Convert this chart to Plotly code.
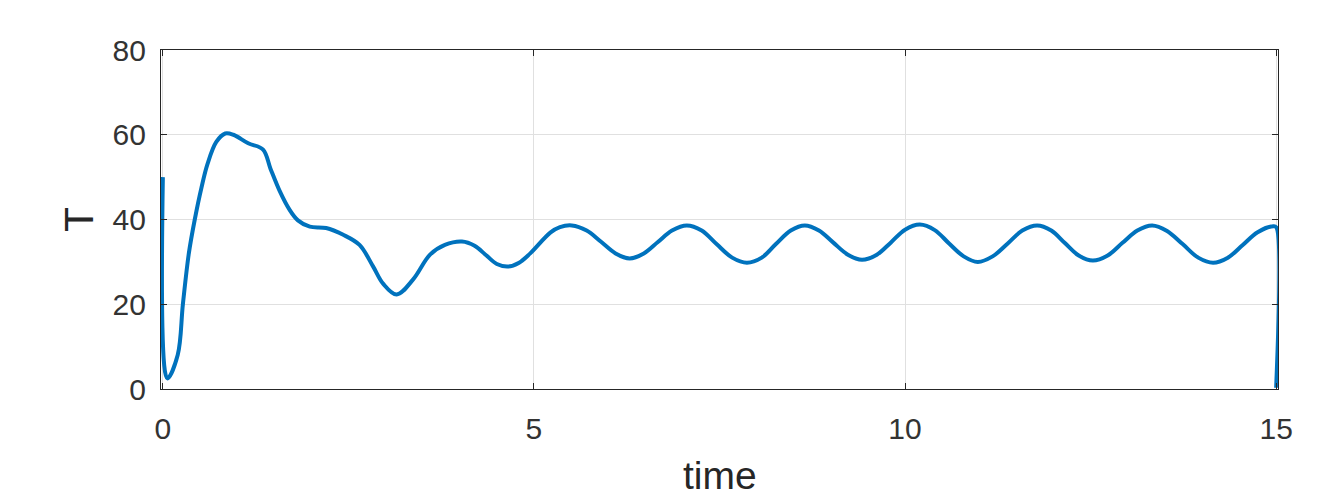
import plotly.graph_objects as go

time = [0, 0.06, 0.2, 0.27, 0.35, 0.43, 0.52, 0.6, 0.72, 0.84, 0.95, 1.15, 1.35, 1.45,
        1.58, 1.7, 1.82, 1.98, 2.2, 2.43, 2.65, 2.83, 2.97, 3.15, 3.37, 3.6, 3.8, 4.03,
        4.2, 4.36, 4.5, 4.65, 4.8, 4.95, 5.22, 5.35, 5.51,
        5.71, 5.90, 6.10, 6.29, 6.48, 6.67, 6.86, 7.06,
        7.26, 7.46, 7.67, 7.87, 8.07, 8.26, 8.46, 8.65,
        8.84, 9.03, 9.23, 9.42, 9.62, 9.81, 10.0, 10.2,
        10.4, 10.59, 10.79, 10.98, 11.18, 11.38, 11.58, 11.78,
        11.97, 12.15, 12.34, 12.53, 12.73, 12.93, 13.13, 13.33,
        13.53, 13.74, 13.95, 14.15, 14.35, 14.55, 14.75, 14.96, 15.0, 15.0]
T = [50, 2.5, 8, 20, 32, 40, 47.5, 53, 58.3, 60.3, 60, 58, 56.5, 52,
     46.5, 42.5, 39.8, 38.3, 38, 36.4, 34, 29, 24.8, 22.3, 25.8, 31.7, 34.0, 34.8,
     33.8, 31.5, 29.5, 28.9, 29.8, 32.0, 36.9, 38.2, 38.6,
     37.4, 34.8, 32.0, 30.8, 32.0, 34.7, 37.4, 38.6,
     37.4, 34.2, 31.0, 29.8, 31.0, 34.2, 37.4, 38.6,
     37.4, 34.6, 31.7, 30.5, 31.7, 34.6, 37.6, 38.8,
     37.5, 34.4, 31.3, 30.0, 31.3, 34.3, 37.4, 38.6,
     37.4, 34.5, 31.5, 30.3, 31.5, 34.5, 37.4, 38.6,
     37.3, 34.2, 31.0, 29.8, 31.0, 34.0, 37.0, 38.4, 38.2, 0.3]

x_ticks = [0, 5, 10, 15]
y_ticks = [0, 20, 40, 60, 80]
x_label = "time"
y_label = "T"

font = "Liberation Sans, Arial, Helvetica, sans-serif"
axis_color = "#262626"

fig = go.Figure()
fig.add_trace(go.Scatter(
    x=time, y=T, mode="lines",
    line=dict(color="#0072BD", width=4, shape="spline", smoothing=1.0),
    showlegend=False,
))

common = dict(
    showline=True, linecolor=axis_color, linewidth=1.3, mirror="ticks",
    ticks="inside", ticklen=6, tickcolor=axis_color, tickwidth=1.3,
    showgrid=True, gridcolor="#e0e0e0", gridwidth=1, zeroline=False,
    tickfont=dict(family=font, size=30, color="#333333"),
    automargin=False,
)

fig.update_xaxes(range=[-0.025, 15.025], tickvals=x_ticks, ticktext=[str(v) for v in x_ticks],
                 ticklabelstandoff=13, **common)
fig.update_yaxes(range=[0, 80], tickvals=y_ticks, ticktext=[str(v) for v in y_ticks],
                 ticklabelstandoff=8,
                 title=dict(text=y_label, font=dict(family=font, size=41, color=axis_color),
                            standoff=6),
                 **common)

fig.add_annotation(text=x_label, xref="paper", yref="paper", x=0.5, y=-0.186,
                   xanchor="center", yanchor="top", showarrow=False,
                   font=dict(family=font, size=39, color=axis_color))

fig.update_layout(
    width=1340, height=495,
    margin=dict(l=161, r=62, t=50, b=106),
    paper_bgcolor="white", plot_bgcolor="white",
)

fig.write_html("out.html")
